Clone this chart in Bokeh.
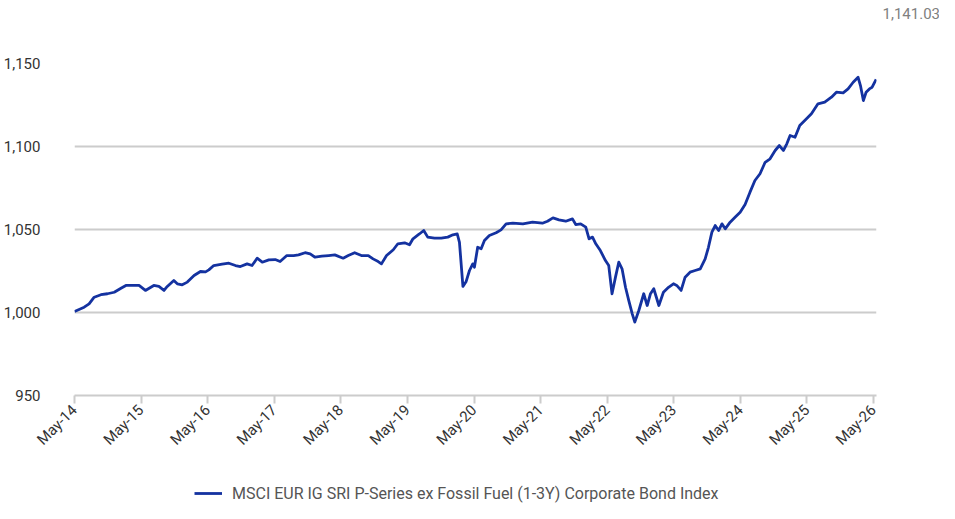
import math
import pandas as pd
from bokeh.plotting import figure
from bokeh.layouts import column
from bokeh.models import (FixedTicker, NumeralTickFormatter, DatetimeTickFormatter,
                          Legend, LegendItem, Title, Range1d, ColumnDataSource)
from bokeh.embed import file_html
from bokeh.resources import INLINE

series_name = "MSCI EUR IG SRI P-Series ex Fossil Fuel (1-3Y) Corporate Bond Index"
last_value_label = "1,141.03"

dates = [
    "2014-05-01", "2014-06-23", "2014-07-20", "2014-08-17", "2014-09-23", "2014-10-29",
    "2014-12-05", "2015-01-11", "2015-02-07", "2015-03-14", "2015-04-20", "2015-05-25",
    "2015-07-10", "2015-08-07", "2015-09-04", "2015-09-22", "2015-10-28", "2015-11-16",
    "2015-12-13", "2016-01-10", "2016-02-16", "2016-03-22", "2016-04-19", "2016-05-07",
    "2016-06-03", "2016-07-19", "2016-08-25", "2016-09-30", "2016-10-27", "2016-12-03",
    "2016-12-30", "2017-01-27", "2017-02-24", "2017-04-01", "2017-05-06", "2017-06-02",
    "2017-07-09", "2017-08-15", "2017-09-11", "2017-10-17", "2017-11-14", "2017-12-11",
    "2018-01-17", "2018-02-23", "2018-03-29", "2018-05-14", "2018-06-11", "2018-07-16",
    "2018-08-22", "2018-09-29", "2018-10-25", "2018-11-22", "2018-12-10", "2019-01-07",
    "2019-02-13", "2019-03-10", "2019-04-16", "2019-05-13", "2019-06-01", "2019-07-06",
    "2019-07-30", "2019-08-21", "2019-09-27", "2019-11-03", "2019-12-09", "2020-01-06",
    "2020-01-30", "2020-02-11", "2020-03-01", "2020-03-18", "2020-04-06", "2020-04-24",
    "2020-05-03", "2020-05-21", "2020-06-09", "2020-06-27", "2020-07-24", "2020-08-30",
    "2020-09-26", "2020-10-24", "2020-11-30", "2021-01-24", "2021-03-18", "2021-05-11",
    "2021-06-08", "2021-07-08", "2021-08-10", "2021-09-16", "2021-10-23", "2021-11-10",
    "2021-12-07", "2022-01-04", "2022-01-22", "2022-02-10", "2022-02-28", "2022-03-25",
    "2022-04-22", "2022-05-10", "2022-05-28", "2022-06-16", "2022-07-04", "2022-07-22",
    "2022-08-10", "2022-08-28", "2022-09-16", "2022-09-30", "2022-10-22", "2022-11-18",
    "2022-12-07", "2022-12-25", "2023-01-12", "2023-02-09", "2023-03-06", "2023-04-03",
    "2023-04-30", "2023-05-18", "2023-06-11", "2023-07-03", "2023-07-30", "2023-08-27",
    "2023-09-24", "2023-10-21", "2023-11-08", "2023-11-27", "2023-12-15", "2024-01-03",
    "2024-01-21", "2024-02-08", "2024-03-06", "2024-04-02", "2024-04-30", "2024-05-27",
    "2024-06-23", "2024-07-20", "2024-08-17", "2024-09-14", "2024-10-11", "2024-11-08",
    "2024-12-01", "2024-12-23", "2025-01-11", "2025-01-29", "2025-02-25", "2025-03-23",
    "2025-04-29", "2025-05-26", "2025-07-01", "2025-08-07", "2025-09-13", "2025-10-10",
    "2025-11-16", "2025-12-13", "2026-01-10", "2026-02-06", "2026-02-19", "2026-03-07",
    "2026-03-22", "2026-04-09", "2026-04-24", "2026-05-16",
]

index_values = [
    1000.6, 1003.2, 1005.2, 1009.2, 1010.7, 1011.3,
    1012.2, 1014.6, 1016.3, 1016.3, 1016.3, 1013.3,
    1016.3, 1015.7, 1013.3, 1015.7, 1019.3, 1017.3,
    1016.7, 1018.3, 1022.3, 1024.7, 1024.5, 1025.7,
    1028.3, 1029.1, 1029.7, 1028.3, 1027.7, 1029.3,
    1028.3, 1032.7, 1030.3, 1031.7, 1031.9, 1030.7,
    1034.3, 1034.3, 1034.7, 1036.0, 1035.3, 1033.3,
    1033.9, 1034.3, 1034.7, 1032.7, 1034.3, 1036.0,
    1034.3, 1034.3, 1032.3, 1030.7, 1029.3, 1034.3,
    1037.8, 1041.4, 1042.0, 1040.8, 1044.4, 1047.3,
    1049.4, 1045.4, 1044.8, 1044.8, 1045.4, 1046.8,
    1047.3, 1042.3, 1015.7, 1018.5, 1025.3, 1029.3,
    1027.3, 1039.3, 1038.4, 1043.4, 1046.4, 1048.0,
    1049.8, 1053.4, 1053.8, 1053.4, 1054.4, 1053.8,
    1055.0, 1057.0, 1055.8, 1055.0, 1056.4, 1053.0,
    1053.4, 1051.4, 1044.4, 1045.4, 1041.4, 1037.3,
    1031.3, 1028.3, 1011.3, 1021.3, 1030.3, 1026.3,
    1015.2, 1007.2, 999.2, 994.2, 1001.2, 1011.3,
    1004.2, 1011.3, 1014.3, 1004.2, 1012.2, 1015.2,
    1017.3, 1016.3, 1013.3, 1021.3, 1024.3, 1025.3,
    1026.3, 1032.3, 1039.3, 1048.4, 1052.4, 1049.4,
    1053.4, 1050.4, 1054.4, 1057.4, 1060.4, 1065.0,
    1072.5, 1079.5, 1083.6, 1090.5, 1092.6, 1097.6,
    1100.6, 1097.6, 1101.6, 1106.6, 1105.6, 1112.7,
    1116.7, 1119.7, 1125.7, 1126.7, 1129.7, 1132.7,
    1132.3, 1134.7, 1138.7, 1141.7, 1136.7, 1127.7,
    1132.7, 1134.7, 1135.7, 1140.5,
]

x_tick_dates = ["2014-05-01", "2015-05-01", "2016-05-01", "2017-05-01", "2018-05-01",
                "2019-05-01", "2020-05-01", "2021-05-01", "2022-05-01", "2023-05-01",
                "2024-05-01", "2025-05-01", "2026-05-01"]
y_ticks = [950, 1000, 1050, 1100, 1150]

FONT = "Roboto"
LINE_COLOR = "#1432a0"
GRID_COLOR = "#cccccc"

src = ColumnDataSource(data=dict(date=pd.to_datetime(dates), value=index_values))

x_start = pd.Timestamp("2014-05-01")
x_end = pd.Timestamp("2026-05-18")

p = figure(width=939, height=483, x_axis_type="datetime",
           output_backend="svg", toolbar_location=None,
           x_range=Range1d(x_start, x_end), y_range=Range1d(950, 1150),
           min_border_left=72, min_border_right=63, min_border_top=63, min_border_bottom=88)
p.outline_line_color = None
p.background_fill_color = "white"
p.border_fill_color = "white"

r = p.line(x="date", y="value", source=src, line_color=LINE_COLOR, line_width=2.8,
           line_join="round")

tick_ms = [pd.Timestamp(d).value // 10**6 for d in x_tick_dates]
p.xaxis.ticker = FixedTicker(ticks=tick_ms)
fmt = "%b-%y"
p.xaxis.formatter = DatetimeTickFormatter(years=fmt, months=fmt, days=fmt, hours=fmt,
                                          minutes=fmt, seconds=fmt, milliseconds=fmt,
                                          microseconds=fmt, minsec=fmt, hourmin=fmt)
p.xaxis.major_label_orientation = math.pi / 4
p.xaxis.axis_line_color = GRID_COLOR
p.xaxis.axis_line_width = 2
p.xaxis.major_tick_line_color = GRID_COLOR
p.xaxis.major_tick_line_width = 2
p.xaxis.major_tick_in = 0
p.xaxis.major_tick_out = 8
p.xaxis.minor_tick_line_color = None
p.xaxis.major_label_text_font = FONT
p.xaxis.major_label_text_font_size = "15px"
p.xaxis.major_label_text_color = "#333333"
p.xaxis.major_label_standoff = 4

p.yaxis.ticker = FixedTicker(ticks=y_ticks)
p.yaxis.formatter = NumeralTickFormatter(format="0,0")
p.yaxis.axis_line_color = None
p.yaxis.major_tick_line_color = None
p.yaxis.minor_tick_line_color = None
p.yaxis.major_label_text_font = FONT
p.yaxis.major_label_text_font_size = "15px"
p.yaxis.major_label_text_color = "#333333"
p.yaxis.major_label_standoff = 28

p.xgrid.grid_line_color = None
p.ygrid.ticker = FixedTicker(ticks=y_ticks)
p.ygrid.grid_line_color = GRID_COLOR
p.ygrid.grid_line_width = 2

# last-value label in the top-right corner (blank lines only pad it to the top edge)
top_title = Title(text=last_value_label + "\n\n", align="left", offset=808, standoff=6,
                  vertical_align="top",
                  text_font=FONT, text_font_size="15px", text_font_style="normal",
                  text_color="#808080")
p.add_layout(top_title, "above")

# legend strip below the chart
leg_fig = figure(width=939, height=20, output_backend="svg", toolbar_location=None,
                 x_axis_location=None, y_axis_location=None, min_border=0,
                 x_range=Range1d(0, 1), y_range=Range1d(0, 1))
leg_fig.outline_line_color = None
leg_fig.xgrid.grid_line_color = None
leg_fig.ygrid.grid_line_color = None
# same series, outside this strip's ranges: only its legend swatch is seen
leg_line = leg_fig.line(x="date", y="value", source=src, line_color=LINE_COLOR,
                        line_width=2.8)

legend = Legend(items=[LegendItem(label=series_name, renderers=[leg_line])],
                location=(120, 0), orientation="horizontal",
                label_text_font=FONT, label_text_font_size="16px",
                label_text_color="#555555", glyph_width=28, glyph_height=20,
                label_height=20, label_standoff=10, padding=0, margin=0, spacing=0,
                border_line_color=None, background_fill_alpha=0)
leg_fig.add_layout(legend, "center")

layout = column(p, leg_fig, spacing=0)

open("out.html", "w").write(file_html(layout, INLINE))
